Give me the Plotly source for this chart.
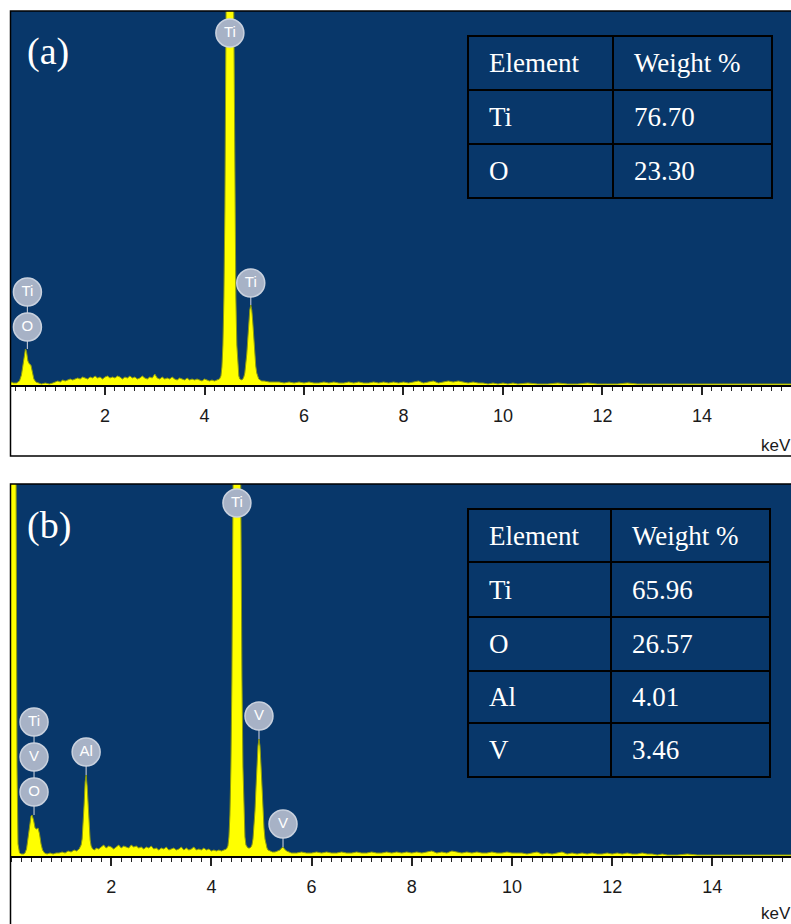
import plotly.graph_objects as go

# ---------------- data ----------------
energy_a = [
    0.11, 0.16, 0.22, 0.28, 0.32, 0.35, 0.38, 0.40, 0.42, 0.45,
    0.48, 0.51, 0.54, 0.57, 0.61, 0.66, 0.72, 0.80, 0.88, 0.95,
    1.00, 1.05, 1.10, 1.15, 1.20, 1.25, 1.30, 1.35, 1.40, 1.45,
    1.50, 1.55, 1.60, 1.65, 1.70, 1.75, 1.80, 1.85, 1.90, 1.95,
    2.00, 2.05, 2.10, 2.15, 2.20, 2.25, 2.30, 2.35, 2.40, 2.45,
    2.50, 2.55, 2.60, 2.65, 2.70, 2.75, 2.80, 2.85, 2.90, 2.95,
    3.00, 3.05, 3.10, 3.15, 3.20, 3.25, 3.30, 3.35, 3.40, 3.45,
    3.50, 3.55, 3.60, 3.65, 3.70, 3.75, 3.80, 3.85, 3.90, 3.95,
    4.00, 4.05, 4.10, 4.15, 4.20, 4.25, 4.30, 4.33, 4.35, 4.37,
    4.39, 4.41, 4.43, 4.45, 4.47, 4.49, 4.51, 4.53, 4.55, 4.57,
    4.59, 4.61, 4.63, 4.65, 4.67, 4.69, 4.71, 4.73, 4.75, 4.77,
    4.79, 4.81, 4.83, 4.85, 4.87, 4.89, 4.91, 4.93, 4.95, 4.97,
    4.99, 5.01, 5.03, 5.05, 5.07, 5.09, 5.12, 5.15, 5.20, 5.30,
    5.40, 5.50, 5.60, 5.70, 5.80, 5.90, 6.00, 6.10, 6.20, 6.30,
    6.40, 6.50, 6.60, 6.70, 6.80, 6.90, 7.00, 7.10, 7.20, 7.30,
    7.40, 7.50, 7.60, 7.70, 7.80, 7.90, 8.00, 8.10, 8.20, 8.30,
    8.40, 8.50, 8.60, 8.70, 8.80, 8.90, 9.00, 9.10, 9.20, 9.30,
    9.40, 9.50, 9.60, 9.70, 9.80, 9.90, 10.0, 10.1, 10.2, 10.3,
    10.5, 10.7, 10.9, 11.1, 11.3, 11.5, 11.7, 11.9, 12.1, 12.3,
    12.5, 12.7, 12.9, 13.1, 13.3, 13.5, 13.7, 13.9, 14.1, 14.3,
    14.5, 14.7, 14.9, 15.1, 15.3, 15.5, 15.7, 15.9, 16.1, 16.3,
]
counts_a = [
    3, 2, 2, 4, 10, 22, 33, 36, 34, 24,
    21, 20, 13, 6, 3, 2, 1, 2, 1, 2,
    3, 4, 3, 5, 4, 5, 6, 5, 6, 7,
    6, 8, 7, 6, 8, 7, 9, 7, 8, 6,
    8, 9, 7, 8, 7, 9, 8, 6, 8, 7,
    9, 7, 8, 6, 7, 9, 7, 6, 8, 7,
    11, 7, 6, 8, 6, 7, 6, 8, 6, 5,
    7, 6, 5, 7, 5, 6, 5, 6, 5, 4,
    6, 5, 4, 5, 4, 5, 6, 9, 18, 40,
    88, 177, 317, 501, 696, 847, 905, 847, 696, 501,
    317, 177, 88, 40, 18, 9, 6, 5, 5, 6,
    8, 12, 19, 31, 46, 63, 75, 80, 75, 63,
    46, 31, 19, 12, 8, 6, 5, 4, 4, 3,
    3, 3, 2, 3, 2, 3, 2, 3, 2, 2,
    3, 2, 3, 2, 2, 3, 2, 3, 2, 2,
    3, 2, 3, 2, 3, 2, 3, 2, 3, 4,
    2, 3, 4, 2, 3, 4, 3, 4, 3, 2,
    3, 2, 2, 1, 2, 1, 2, 1, 2, 1,
    2, 1, 1, 2, 1, 1, 2, 1, 1, 1,
    2, 1, 1, 1, 1, 1, 1, 1, 1, 1,
    1, 1, 1, 1, 1, 1, 1, 1, 1, 1,
]

energy_b = [
    0.00, 0.02, 0.04, 0.06, 0.08, 0.10, 0.12, 0.14, 0.17, 0.21,
    0.25, 0.28, 0.31, 0.34, 0.37, 0.40, 0.42, 0.45, 0.48, 0.51,
    0.54, 0.57, 0.60, 0.63, 0.67, 0.72, 0.78, 0.84, 0.90, 0.96,
    1.02, 1.08, 1.14, 1.20, 1.26, 1.31, 1.36, 1.40, 1.42, 1.44,
    1.46, 1.48, 1.50, 1.52, 1.54, 1.56, 1.58, 1.60, 1.63, 1.67,
    1.70, 1.75, 1.80, 1.85, 1.90, 1.95, 2.00, 2.05, 2.10, 2.15,
    2.20, 2.25, 2.30, 2.35, 2.40, 2.45, 2.50, 2.55, 2.60, 2.65,
    2.70, 2.75, 2.80, 2.85, 2.90, 2.95, 3.00, 3.05, 3.10, 3.15,
    3.20, 3.25, 3.30, 3.35, 3.40, 3.45, 3.50, 3.55, 3.60, 3.65,
    3.70, 3.75, 3.80, 3.85, 3.90, 3.95, 4.00, 4.05, 4.10, 4.15,
    4.20, 4.25, 4.30, 4.33, 4.35, 4.37, 4.39, 4.41, 4.43, 4.45,
    4.47, 4.49, 4.51, 4.53, 4.55, 4.57, 4.59, 4.61, 4.63, 4.65,
    4.67, 4.69, 4.71, 4.73, 4.75, 4.77, 4.79, 4.81, 4.83, 4.85,
    4.87, 4.89, 4.91, 4.93, 4.95, 4.97, 4.99, 5.01, 5.03, 5.05,
    5.07, 5.09, 5.11, 5.13, 5.18, 5.22, 5.27, 5.32, 5.37, 5.40,
    5.43, 5.46, 5.50, 5.55, 5.60, 5.70, 5.80, 5.90, 6.00, 6.10,
    6.20, 6.30, 6.40, 6.50, 6.60, 6.70, 6.80, 6.90, 7.00, 7.10,
    7.20, 7.30, 7.40, 7.50, 7.60, 7.70, 7.80, 7.90, 8.00, 8.10,
    8.20, 8.30, 8.40, 8.50, 8.60, 8.70, 8.80, 8.90, 9.00, 9.10,
    9.20, 9.30, 9.40, 9.50, 9.60, 9.70, 9.80, 9.90, 10.0, 10.1,
    10.2, 10.3, 10.4, 10.5, 10.6, 10.7, 10.8, 10.9, 11.0, 11.1,
    11.2, 11.3, 11.4, 11.5, 11.6, 11.7, 11.8, 11.9, 12.0, 12.1,
    12.2, 12.3, 12.4, 12.5, 12.6, 12.7, 12.8, 12.9, 13.0, 13.1,
    13.3, 13.5, 13.7, 13.9, 14.1, 14.3, 14.5, 14.7, 14.9, 15.1,
    15.3, 15.5, 15.7, 15.9, 16.1, 16.3, 16.5, 16.7, 16.9, 17.1,
]
counts_b = [
    950, 1000, 1000, 950, 700, 380, 90, 12, 3, 2,
    2, 3, 7, 18, 32, 40, 41, 36, 28, 27,
    28, 22, 12, 6, 3, 2, 3, 2, 3, 3,
    4, 3, 5, 4, 6, 5, 7, 11, 17, 30,
    52, 74, 81, 70, 48, 28, 16, 10, 7, 6,
    8, 7, 9, 11, 8, 10, 9, 7, 9, 11,
    8, 10, 9, 8, 11, 9, 10, 8, 9, 7,
    9, 8, 10, 7, 8, 6, 8, 7, 9, 6,
    7, 8, 6, 7, 9, 6, 8, 6, 7, 9,
    6, 7, 6, 8, 6, 7, 5, 6, 5, 6,
    5, 6, 7, 10, 19, 41, 89, 178, 318, 501,
    697, 847, 906, 847, 697, 501, 318, 178, 89, 41,
    19, 11, 9, 8, 8, 8, 9, 11, 17, 28,
    45, 68, 91, 110, 117, 110, 91, 68, 45, 28,
    17, 11, 8, 6, 5, 4, 4, 5, 6, 8,
    9, 7, 5, 4, 3, 3, 4, 3, 3, 4,
    3, 4, 3, 3, 4, 3, 3, 4, 3, 3,
    4, 3, 3, 4, 3, 4, 3, 4, 3, 4,
    3, 4, 5, 3, 4, 3, 5, 4, 3, 4,
    3, 4, 3, 3, 4, 3, 3, 4, 3, 3,
    3, 2, 3, 4, 2, 3, 2, 3, 4, 2,
    3, 2, 3, 2, 3, 2, 2, 3, 2, 3,
    2, 3, 2, 2, 3, 2, 2, 1, 2, 1,
    1, 2, 1, 1, 1, 1, 1, 1, 1, 1,
    1, 1, 1, 1, 1, 1, 1, 1, 1, 1,
]

tick_values = [2, 4, 6, 8, 10, 12, 14]
tick_labels = ["2", "4", "6", "8", "10", "12", "14"]

table_header = ["Element", "Weight %"]
elements_a = ["Ti", "O"]
weights_a = ["76.70", "23.30"]
elements_b = ["Ti", "O", "Al", "V"]
weights_b = ["65.96", "26.57", "4.01", "3.46"]

# peak labels: (stack of element names bottom->top, energy, peak top)
labels_a = [(["O", "Ti"], 0.44, 36), (["Ti"], 4.51, None), (["Ti"], 4.93, 80)]
labels_b = [(["O", "V", "Ti"], 0.46, 41), (["Al"], 1.50, 81), (["Ti"], 4.51, None),
            (["V"], 4.95, 117), (["V"], 5.43, 9)]

# ---------------- layout helpers ----------------
W, H = 791, 924
def px(x):
    return x / W
def py(y):
    return 1 - y / H

BG = "#08376a"
YELLOW = "#ffff00"
BADGE = "#a7b2c6"

fig = go.Figure()

def add_spectrum(xs, ys, xa, ya):
    fig.add_trace(go.Scatter(x=xs, y=ys, xaxis=xa, yaxis=ya, mode="lines",
                             fill="tozeroy", fillcolor=YELLOW,
                             line=dict(color="#8c9a10", width=1),
                             hoverinfo="skip", showlegend=False))

add_spectrum(energy_a, counts_a, "x", "y")
add_spectrum(energy_b, counts_b, "x2", "y2")

first_y_top = {"y": 352, "y2": 353}

def add_labels(labels, xa, ya, first_y, spacing):
    for names, e, top in labels:
        if top is None:
            ys_badge = [first_y_top[ya]]
        else:
            ys_badge = [top + first_y + i * spacing for i in range(len(names))]
            fig.add_trace(go.Scatter(x=[e, e], y=[top, ys_badge[-1]], xaxis=xa, yaxis=ya,
                                     mode="lines", line=dict(color="#b5bfcf", width=1.2),
                                     hoverinfo="skip", showlegend=False))
        fig.add_trace(go.Scatter(x=[e] * len(names), y=ys_badge, xaxis=xa, yaxis=ya,
                                 mode="markers+text", text=names, textposition="middle center",
                                 textfont=dict(family="Liberation Sans, Arial", size=15, color="white"),
                                 marker=dict(size=28, color=BADGE, line=dict(color="#c9d1de", width=1.5)),
                                 hoverinfo="skip", showlegend=False, cliponaxis=False))

add_labels(labels_a, "x", "y", 22, 35)
add_labels(labels_b, "x2", "y2", 23, 35)

axis_common = dict(
    showgrid=False, zeroline=False, showline=True, linecolor="black", linewidth=1.5,
    ticks="outside", ticklen=8, tickwidth=1.5, tickcolor="#222",
    tickvals=tick_values, ticktext=tick_labels, ticklabelstandoff=6,
    tickfont=dict(family="Liberation Sans, Arial", size=18, color="#1a1a1a"),
    minor=dict(dtick=0.2, tick0=0, ticks="outside", ticklen=4, tickwidth=1.2, tickcolor="#222"),
)

fig.update_layout(
    width=W, height=H,
    margin=dict(l=0, r=0, t=0, b=0),
    paper_bgcolor="white", plot_bgcolor=BG, showlegend=False,
    xaxis=dict(domain=[px(11), 1], range=[0.11, 15.79], anchor="y", **axis_common),
    yaxis=dict(domain=[py(385), py(11)], range=[0, 374], visible=False, anchor="x"),
    xaxis2=dict(domain=[px(11), 1], range=[0, 15.57], anchor="y2", **axis_common),
    yaxis2=dict(domain=[py(856), py(484)], range=[0, 372], visible=False, anchor="x2"),
)

shapes = []
annotations = []

# panel borders
for top, bottom in [(11, 456), (484, 930)]:
    shapes.append(dict(type="rect", xref="paper", yref="paper",
                       x0=px(10.5), x1=px(800), y0=py(bottom), y1=py(top),
                       line=dict(color="black", width=1.5), fillcolor="rgba(0,0,0,0)", layer="above"))

def add_table(left, right, col, rows_y, header, elements, weights):
    shapes.append(dict(type="rect", xref="paper", yref="paper",
                       x0=px(left), x1=px(right), y0=py(rows_y[-1]), y1=py(rows_y[0]),
                       line=dict(color="black", width=2), fillcolor="rgba(0,0,0,0)", layer="above"))
    shapes.append(dict(type="line", xref="paper", yref="paper",
                       x0=px(col), x1=px(col), y0=py(rows_y[-1]), y1=py(rows_y[0]),
                       line=dict(color="black", width=2), layer="above"))
    for yy in rows_y[1:-1]:
        shapes.append(dict(type="line", xref="paper", yref="paper",
                           x0=px(left), x1=px(right), y0=py(yy), y1=py(yy),
                           line=dict(color="black", width=2), layer="above"))
    cells = [header] + [[e, w] for e, w in zip(elements, weights)]
    for i, (c1, c2) in enumerate(cells):
        yc = (rows_y[i] + rows_y[i + 1]) / 2
        for text, xl in [(c1, left + 19), (c2, col + 19)]:
            annotations.append(dict(xref="paper", yref="paper", x=px(xl), y=py(yc),
                                    text=text, showarrow=False, xanchor="left", yanchor="middle",
                                    font=dict(family="Liberation Serif, Times New Roman", size=27,
                                              color="white")))

add_table(468, 772, 613, [36, 90, 144, 198], table_header, elements_a, weights_a)
add_table(468, 770, 611, [509, 562, 617, 671, 723, 777], table_header, elements_b, weights_b)

# panel letters
for txt, yc in [("(a)", 51), ("(b)", 525)]:
    annotations.append(dict(xref="paper", yref="paper", x=px(25), y=py(yc), text=txt,
                            showarrow=False, xanchor="left", yanchor="middle",
                            font=dict(family="Liberation Serif, Times New Roman", size=38, color="white")))

# keV labels
for yc in [446, 913]:
    annotations.append(dict(xref="paper", yref="paper", x=px(759), y=py(yc), text="keV",
                            showarrow=False, xanchor="left", yanchor="middle",
                            font=dict(family="Liberation Sans, Arial", size=17, color="#1a1a1a")))

fig.update_layout(shapes=shapes, annotations=annotations)
fig.write_html("out.html", config={"displayModeBar": False},
               post_script="document.body.style.margin='0';document.body.style.overflow='hidden';")
